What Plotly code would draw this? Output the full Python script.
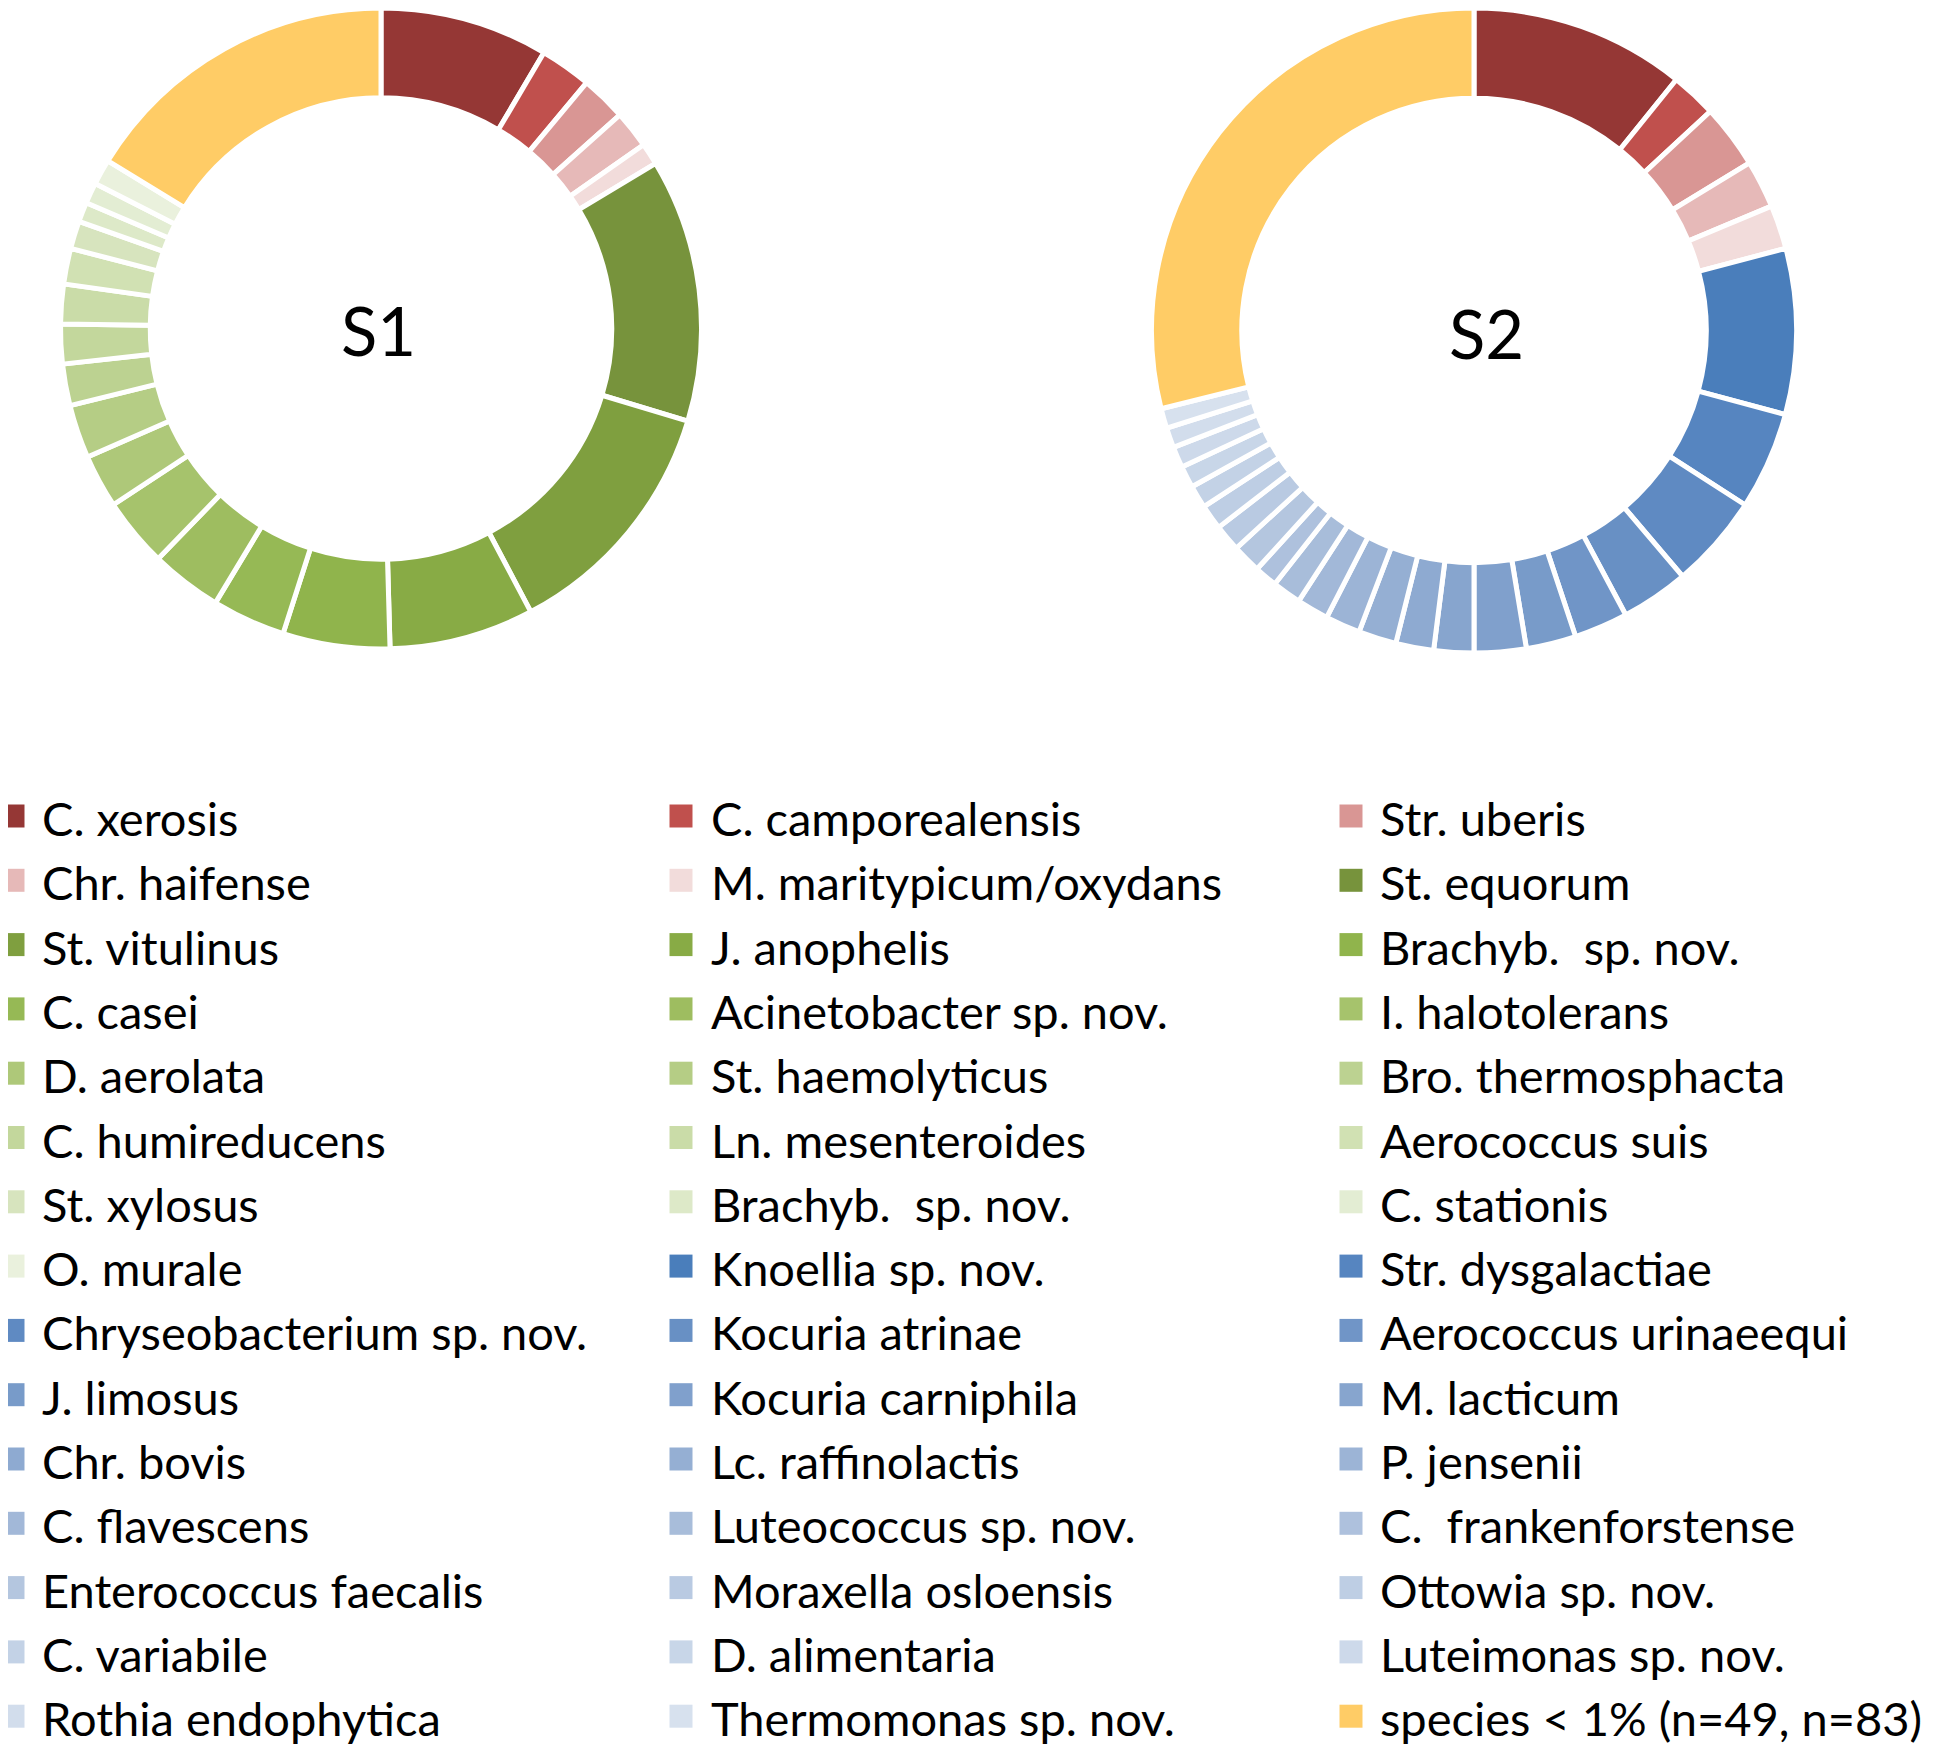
import plotly.graph_objects as go

# ---------------- data ----------------
red_species = ["C. xerosis", "C. camporealensis", "Str. uberis", "Chr. haifense",
               "M. maritypicum/oxydans"]
green_species = ["St. equorum", "St. vitulinus", "J. anophelis", "Brachyb.  sp. nov.",
                 "C. casei", "Acinetobacter sp. nov.", "I. halotolerans", "D. aerolata",
                 "St. haemolyticus", "Bro. thermosphacta", "C. humireducens",
                 "Ln. mesenteroides", "Aerococcus suis", "St. xylosus",
                 "Brachyb.  sp. nov. ", "C. stationis", "O. murale"]
blue_species = ["Knoellia sp. nov.", "Str. dysgalactiae", "Chryseobacterium sp. nov.",
                "Kocuria atrinae", "Aerococcus urinaeequi", "J. limosus",
                "Kocuria carniphila", "M. lacticum", "Chr. bovis", "Lc. raffinolactis",
                "P. jensenii", "C. flavescens", "Luteococcus sp. nov.",
                "C.  frankenforstense", "Enterococcus faecalis", "Moraxella osloensis",
                "Ottowia sp. nov.", "C. variabile", "D. alimentaria",
                "Luteimonas sp. nov.", "Rothia endophytica", "Thermomonas sp. nov."]
other_label = "species < 1% (n=49, n=83)"

# relative abundance (%) read from the rings
s1_red_values = [8.5, 2.6, 2.3, 1.9, 1.1]
s1_green_values = [13.3, 12.6, 7.3, 5.4, 3.7, 3.6, 3.5, 2.7, 2.7, 2.1, 2.0,
                   2.0, 1.8, 1.4, 1.0, 1.05, 1.3]
s1_other_value = 16.25

s2_red_values = [10.8, 2.3, 3.2, 2.4, 2.2]
s2_blue_values = [8.3, 4.9, 4.7, 3.4, 2.7, 2.5, 2.6, 2.0, 1.9, 1.9, 1.75,
                  1.6, 1.45, 1.15, 1.45, 1.35, 1.25, 1.15, 1.1, 1.05, 1.0, 1.0]
s2_other_value = 28.9

sample_names = ["S1", "S2"]

# ---------------- styles ----------------
red_colors = ["#953735", "#C0504D", "#D99694", "#E6B9B8", "#F2DCDB"]
green_colors = ["#77933C", "#7F9F3F", "#88AB45", "#90B44C", "#96B955", "#9EBD60",
                "#A6C36C", "#AEC879", "#B5CD85", "#BCD291", "#C3D79C", "#CADCA8",
                "#D1E1B3", "#D7E4BE", "#DDE9C8", "#E3EDD3", "#EAF1DD"]
blue_colors = ["#4A7EBB", "#5685C0", "#5F8AC2", "#6890C4", "#7095C7", "#789BC9",
               "#80A0CC", "#87A5CE", "#8EAAD1", "#95AFD3", "#9CB4D6", "#A2B8D8",
               "#A8BDDA", "#AEC1DD", "#B4C6DF", "#B9CAE2", "#BECEE4", "#C3D2E6",
               "#C8D6E8", "#CDD9EA", "#D2DDEC", "#D7E1EE"]
other_color = "#FFCC66"

PAGE_MARGIN = 8          # default body margin of the html page
W, H = 1936 - 2 * PAGE_MARGIN, 1755 - 2 * PAGE_MARGIN
FONT = "Lato, 'Open Sans', sans-serif"


def px(x, y):
    """page pixel position -> paper coordinates"""
    return (x - PAGE_MARGIN) / W, 1 - (y - PAGE_MARGIN) / H


fig = go.Figure()

pies = [
    dict(name=sample_names[0],
         labels=red_species + green_species + [other_label],
         values=s1_red_values + s1_green_values + [s1_other_value],
         colors=red_colors + green_colors + [other_color],
         cx=381, cy=328.5, r=320.5, lx=378, ly=330),
    dict(name=sample_names[1],
         labels=red_species + blue_species + [other_label],
         values=s2_red_values + s2_blue_values + [s2_other_value],
         colors=red_colors + blue_colors + [other_color],
         cx=1474, cy=330.5, r=322.5, lx=1486, ly=333),
]

for p in pies:
    x0, y1 = px(p["cx"] - p["r"], p["cy"] - p["r"])
    x1, y0 = px(p["cx"] + p["r"], p["cy"] + p["r"])
    fig.add_trace(go.Pie(
        name=p["name"], labels=p["labels"], values=p["values"],
        hole=0.72, sort=False, direction="clockwise", rotation=0,
        marker=dict(colors=p["colors"], line=dict(color="white", width=5)),
        textinfo="none", hoverinfo="label+value", showlegend=False,
        domain=dict(x=[max(0, x0), min(1, x1)], y=[max(0, y0), min(1, y1)]),
    ))
    ax, ay = px(p["lx"], p["ly"])
    fig.add_annotation(x=ax, y=ay, xref="paper", yref="paper", text=p["name"],
                       showarrow=False, xanchor="center", yanchor="middle",
                       font=dict(family=FONT, size=67, color="black"))

# ---------------- legend (3 columns, row-major) ----------------
legend_labels = red_species + green_species + blue_species + [other_label]
legend_colors = red_colors + green_colors + blue_colors + [other_color]
col_marker_x = [13, 681, 1351]
col_text_x = [40, 709, 1378]
row0_y, row_dy = 816, 64.3
msize = 23

shapes = []
for i, (lab, col) in enumerate(zip(legend_labels, legend_colors)):
    r, c = divmod(i, 3)
    yc = row0_y + r * row_dy
    sx0, sy1 = px(col_marker_x[c] - msize / 2, yc - msize / 2)
    sx1, sy0 = px(col_marker_x[c] + msize / 2, yc + msize / 2)
    shapes.append(dict(type="rect", xref="paper", yref="paper",
                       x0=sx0, x1=sx1, y0=sy0, y1=sy1,
                       fillcolor=col, line=dict(width=0)))
    tx, ty = px(col_text_x[c], yc + 2)
    fig.add_annotation(x=tx, y=ty, xref="paper", yref="paper",
                       text=lab.strip().replace("  ", "&nbsp; "),
                       showarrow=False, xanchor="left", yanchor="middle",
                       font=dict(family=FONT, size=47, color="black"))

fig.update_layout(
    width=W, height=H,
    margin=dict(l=0, r=0, t=0, b=0),
    paper_bgcolor="white", plot_bgcolor="white",
    shapes=shapes, showlegend=False,
)

fig.write_html("out.html")
